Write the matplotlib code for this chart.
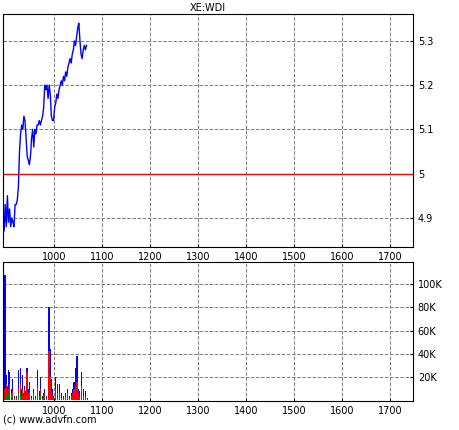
import matplotlib
matplotlib.use('Agg')
import matplotlib.pyplot as plt
import numpy as np

# price series, evenly spaced from day 894 to day 1068
price_start = 894
price_end = 1068
price = [4.90, 4.87, 4.93, 4.88, 4.95, 4.89, 4.92, 4.88, 4.90, 4.89, 4.88, 4.93,
         4.93, 4.94, 4.97, 5.05, 5.09, 5.11, 5.10, 5.13, 5.12, 5.08, 5.04, 5.03,
         5.02, 5.04, 5.08, 5.10, 5.06, 5.10, 5.09, 5.11, 5.11, 5.12, 5.11, 5.12,
         5.13, 5.15, 5.20, 5.19, 5.20, 5.17, 5.20, 5.18, 5.13, 5.12, 5.12, 5.15,
         5.16, 5.18, 5.17, 5.19, 5.20, 5.21, 5.20, 5.22, 5.21, 5.23, 5.22, 5.24,
         5.25, 5.26, 5.25, 5.27, 5.28, 5.30, 5.29, 5.31, 5.33, 5.34, 5.30, 5.27,
         5.26, 5.28, 5.29, 5.28, 5.29]
ref_level = 5.0

# volume bars: day, total (blue), red part, green part (thousands)
vol_day = [898, 900, 901.5, 903, 904.5, 906, 908, 911, 914, 918, 922, 926, 930, 932, 934, 936,
           938, 940, 942, 944, 946, 950, 954, 958, 962, 966, 970, 972, 976, 978, 980, 984,
           988, 990, 992, 994, 996, 1000, 1004, 1008, 1012, 1016, 1020, 1024, 1028, 1032,
           1036, 1040, 1042, 1044, 1046, 1048, 1050, 1052, 1054, 1058, 1062, 1066, 1070]
vol_blue = [108, 10, 22, 6, 12, 26, 24, 10, 18, 4, 4, 26, 28, 10, 22, 6,
            12, 8, 4, 28, 10, 16, 4, 10, 4, 26, 8, 20, 4, 6, 10, 4,
            4, 80, 44, 18, 10, 4, 20, 14, 14, 6, 4, 6, 10, 4,
            6, 10, 16, 4, 28, 38, 14, 10, 8, 24, 10, 8, 2]
vol_red = [10, 6, 14, 4, 8, 10, 14, 6, 8, 2, 2, 10, 14, 4, 10, 4,
           10, 4, 2, 24, 6, 8, 2, 6, 2, 12, 4, 10, 2, 4, 6, 2,
           2, 42, 20, 8, 4, 2, 10, 6, 6, 2, 2, 4, 6, 2,
           4, 6, 10, 2, 12, 16, 8, 6, 4, 12, 4, 4, 1]
vol_green = [4, 2, 4, 2, 2, 8, 4, 2, 4, 1, 1, 6, 8, 2, 6, 2,
             4, 2, 1, 6, 4, 4, 1, 2, 1, 12, 2, 6, 1, 2, 4, 1,
             1, 12, 6, 4, 2, 1, 4, 4, 2, 1, 1, 2, 2, 1,
             2, 4, 12, 1, 6, 8, 2, 4, 2, 8, 2, 2, 1]

fig = plt.figure(figsize=(4.6, 4.3), dpi=100)
ax1 = fig.add_axes([3/460, 1 - 247/430, 410/460, 233/430])
ax2 = fig.add_axes([3/460, 1 - 401/430, 410/460, 139/430])

days = np.linspace(price_start, price_end, len(price))
ax1.plot(days, price, color='blue', lw=1)
ax1.axhline(ref_level, color='red', lw=1)
ax1.set_ylim(4.834, 5.361)
ax1.set_yticks([4.9, 5.0, 5.1, 5.2, 5.3])
ax1.set_yticklabels(['4.9', '5', '5.1', '5.2', '5.3'])
ax1.set_title('XE:WDI', fontsize=7, pad=2)

ax2.bar(vol_day, vol_blue, width=2.5, color='blue', lw=0, antialiased=False)
ax2.bar(vol_day, vol_red, width=2.5, color='red', lw=0, antialiased=False)
ax2.bar(vol_day, vol_green, width=1.2, color='green', lw=0, antialiased=False)
ax2.set_ylim(-0.6, 119)
ax2.set_yticks([20, 40, 60, 80, 100])
ax2.set_yticklabels(['20K', '40K', '60K', '80K', '100K'])

for ax in (ax1, ax2):
    ax.set_xlim(894, 1748)
    ax.set_xticks(range(1000, 1800, 100))
    ax.yaxis.tick_right()
    ax.tick_params(labelsize=7, length=2, direction='in')
    ax.grid(True, color='gray', ls='--', lw=0.7)
    ax.set_axisbelow(True)

fig.text(3/460, 1 - 423/430, '(c) www.advfn.com', fontsize=7)
fig.savefig('out.png', dpi=100)
